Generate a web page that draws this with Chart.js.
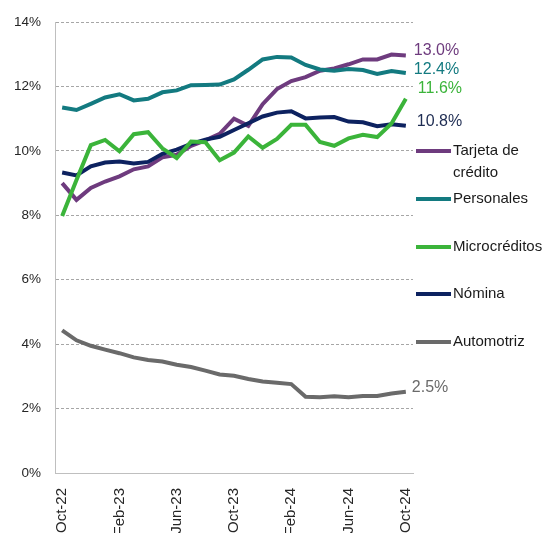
<!DOCTYPE html>
<html>
<head>
<meta charset="utf-8">
<script src="https://cdn.jsdelivr.net/npm/chart.js@4"></script>
<style>
  body { margin: 0; background: #fff; }
  #wrap { width: 547px; height: 533px; position: relative; }
</style>
</head>
<body>
<div id="wrap"><canvas id="rateChart"></canvas></div>
<script>
const months = ['Oct-22','Nov-22','Dec-22','Jan-23','Feb-23','Mar-23','Apr-23','May-23','Jun-23','Jul-23','Aug-23','Sep-23',
  'Oct-23','Nov-23','Dec-23','Jan-24','Feb-24','Mar-24','Apr-24','May-24','Jun-24','Jul-24','Aug-24','Sep-24','Oct-24'];

const seriesNames = ['Tarjeta de crédito', 'Personales', 'Microcréditos', 'Nómina', 'Automotriz'];

const tarjeta = [9.0, 8.48, 8.85, 9.05, 9.21, 9.43, 9.52, 9.8, 9.88, 10.16, 10.33, 10.53, 11.0, 10.78, 11.45, 11.92, 12.17, 12.29, 12.49, 12.56, 12.69, 12.84, 12.84, 12.99, 12.96];
const personales = [11.35, 11.27, 11.46, 11.66, 11.76, 11.57, 11.62, 11.82, 11.88, 12.04, 12.05, 12.06, 12.22, 12.52, 12.84, 12.92, 12.9, 12.67, 12.53, 12.49, 12.54, 12.51, 12.39, 12.48, 12.42];
const microcreditos = [7.98, 9.1, 10.18, 10.34, 9.99, 10.52, 10.58, 10.08, 9.78, 10.29, 10.27, 9.71, 9.95, 10.45, 10.1, 10.37, 10.81, 10.81, 10.28, 10.16, 10.39, 10.5, 10.43, 10.85, 11.62];
const nomina = [9.33, 9.24, 9.52, 9.64, 9.67, 9.61, 9.66, 9.91, 10.04, 10.22, 10.35, 10.44, 10.65, 10.86, 11.07, 11.19, 11.23, 11.01, 11.04, 11.05, 10.91, 10.89, 10.77, 10.83, 10.78];
const automotriz = [4.43, 4.12, 3.95, 3.83, 3.72, 3.59, 3.51, 3.46, 3.36, 3.29, 3.18, 3.06, 3.02, 2.92, 2.84, 2.8, 2.76, 2.37, 2.35, 2.38, 2.35, 2.39, 2.39, 2.47, 2.52];

const colors = ['#6e3b7e', '#137a80', '#3bb43a', '#0d2260', '#6a6a6a'];
const labelColors = ['#6e3b7e', '#137a80', '#3bb43a', '#1e2c52', '#6a6a6a'];
const FONT = "'Liberation Sans', Arial, sans-serif";

// small tweaks so the end labels don't collide
const endLabelDx = [8, 8, 12, 11, 6];
const endLabelDy = [-5, -3, -10, -4, -4];
const legendY = [151, 199, 247, 294, 342];

const endLabels = {
    id: 'endLabels',
    afterDatasetsDraw(chart) {
        const ctx = chart.ctx;
        ctx.save();
        ctx.font = '16px ' + FONT;
        ctx.textBaseline = 'middle';
        ctx.textAlign = 'left';
        chart.data.datasets.forEach((ds, i) => {
            const meta = chart.getDatasetMeta(i);
            const last = meta.data[meta.data.length - 1];
            const val = ds.data[ds.data.length - 1];
            ctx.fillStyle = labelColors[i];
            ctx.fillText(val.toFixed(1) + '%', last.x + endLabelDx[i], last.y + endLabelDy[i]);
        });
        ctx.restore();
    }
};

const sideLegend = {
    id: 'sideLegend',
    afterDraw(chart) {
        const ctx = chart.ctx;
        const x0 = chart.chartArea.right + 3;
        ctx.save();
        ctx.font = '15px ' + FONT;
        ctx.textBaseline = 'middle';
        ctx.textAlign = 'left';
        chart.data.datasets.forEach((ds, i) => {
            const y = legendY[i];
            ctx.strokeStyle = colors[i];
            ctx.lineWidth = 4;
            ctx.beginPath();
            ctx.moveTo(x0, y);
            ctx.lineTo(x0 + 35, y);
            ctx.stroke();
            // wrap words
            const words = ds.label.split(' ');
            let lines = [], cur = '';
            words.forEach(w => {
                const test = cur ? cur + ' ' + w : w;
                if (ctx.measureText(test).width > 92 && cur) { lines.push(cur); cur = w; }
                else cur = test;
            });
            lines.push(cur);
            ctx.fillStyle = '#1a1a1a';
            lines.forEach((ln, j) => ctx.fillText(ln, x0 + 37, y + j * 22));
        });
        ctx.restore();
    }
};

const allSeries = [tarjeta, personales, microcreditos, nomina, automotriz];
const drawOrder = [3, 2, 0, 1, 4];

new Chart(document.getElementById('rateChart'), {
    type: 'line',
    data: {
        labels: months,
        datasets: allSeries.map((d, i) => ({
            label: seriesNames[i],
            data: d,
            borderColor: colors[i],
            backgroundColor: colors[i],
            borderWidth: 4,
            pointRadius: 0,
            tension: 0,
            order: drawOrder[i]
        }))
    },
    options: {
        responsive: true,
        maintainAspectRatio: false,
        animation: false,
        layout: { padding: { top: 18, right: 134, left: 0, bottom: 0 } },
        plugins: {
            legend: { display: false },
            tooltip: { enabled: false }
        },
        scales: {
            x: {
                offset: true,
                grid: { display: false, drawTicks: false },
                border: { display: true, color: '#bfbfbf', width: 1 },
                ticks: {
                    autoSkip: false,
                    maxRotation: 90,
                    minRotation: 90,
                    padding: 15,
                    color: '#262626',
                    font: { family: FONT, size: 15 },
                    callback: function (value, index) {
                        return index % 4 === 0 ? this.getLabelForValue(value) : '';
                    }
                },
                afterFit: (scale) => { scale.height = 60; }
            },
            y: {
                min: 0,
                max: 14,
                grid: { color: '#a6a6a6', lineWidth: 1, drawTicks: false },
                border: { display: true, color: '#bfbfbf', width: 1, dash: [3, 2] },
                ticks: {
                    stepSize: 2,
                    padding: 14,
                    color: '#262626',
                    font: { family: FONT, size: 13.5 },
                    callback: (v) => v + '%'
                },
                afterFit: (scale) => { scale.width = 55; }
            }
        }
    },
    plugins: [endLabels, sideLegend]
});
</script>
</body>
</html>
